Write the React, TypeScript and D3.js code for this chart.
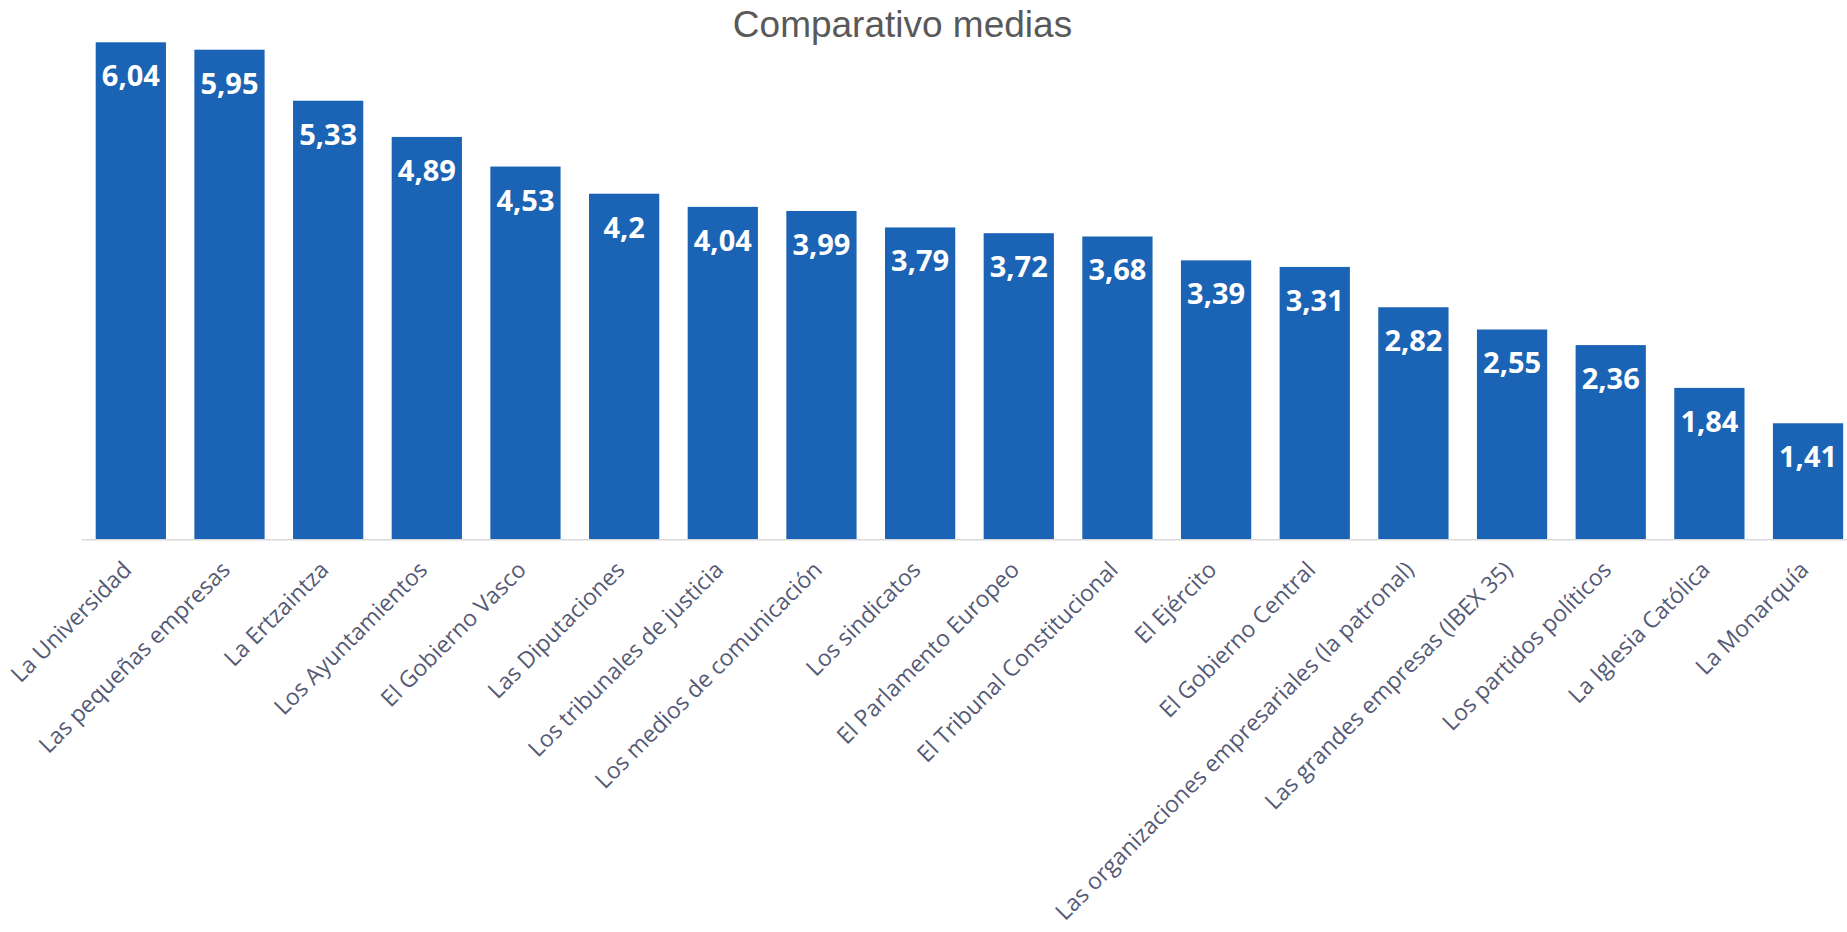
import React from "react";
import * as d3 from "d3";

const categories = [
  "La Universidad",
  "Las pequeñas empresas",
  "La Ertzaintza",
  "Los Ayuntamientos",
  "El Gobierno Vasco",
  "Las Diputaciones",
  "Los tribunales de justicia",
  "Los medios de comunicación",
  "Los sindicatos",
  "El Parlamento Europeo",
  "El Tribunal Constitucional",
  "El Ejército",
  "El Gobierno Central",
  "Las organizaciones empresariales (la patronal)",
  "Las grandes empresas (IBEX 35)",
  "Los partidos políticos",
  "La Iglesia Católica",
  "La Monarquía",
];
const values = [6.04, 5.95, 5.33, 4.89, 4.53, 4.2, 4.04, 3.99, 3.79, 3.72, 3.68, 3.39, 3.31, 2.82, 2.55, 2.36, 1.84, 1.41];
const title = "Comparativo medias";

const W = 1847;
const H = 932;
const axisY = 539.3;
const x0 = 81.5;
const step = 98.66;

export default function App() {
  const x = d3
    .scaleBand<string>()
    .domain(categories)
    .range([x0, x0 + step * categories.length])
    .paddingInner(0.288)
    .paddingOuter(0.144);
  const y = d3.scaleLinear().domain([0, 6.04]).range([axisY, 42.3]);
  const fmt = (v: number) => String(v).replace(".", ",");

  return (
    <svg
      width={W}
      height={H}
      style={{ position: "absolute", left: 0, top: 0, background: "#fff" }}
    >
      <text
        x={902.5}
        y={37}
        textAnchor="middle"
        fontFamily="'Liberation Sans', Arial, sans-serif"
        fontSize={37}
        fill="#595959"
      >
        {title}
      </text>
      {categories.map((c, i) => {
        const bx = x(c)!;
        const bw = x.bandwidth();
        const by = y(values[i]);
        return (
          <g key={c}>
            <rect x={bx} y={by} width={bw} height={axisY - by} fill="#1b63b4" />
            <text
              x={bx + bw / 2}
              y={by + 44}
              textAnchor="middle"
              fontFamily="'Open Sans', sans-serif"
              fontWeight={700}
              fontSize={29}
              fill="#ffffff"
            >
              {fmt(values[i])}
            </text>
          </g>
        );
      })}
      <line x1={x0} x2={W} y1={axisY + 0.5} y2={axisY + 0.5} stroke="#d9d9d9" strokeWidth={1.5} />
      {categories.map((c) => {
        const cx = x(c)! + x.bandwidth() / 2;
        const tx = cx + 2;
        const ty = axisY + 32;
        return (
          <text
            key={"l" + c}
            x={tx}
            y={ty}
            transform={`rotate(-45 ${tx} ${ty})`}
            textAnchor="end"
            fontFamily="'Open Sans', sans-serif"
            fontSize={23}
            fill="#555a75"
          >
            {c}
          </text>
        );
      })}
    </svg>
  );
}
